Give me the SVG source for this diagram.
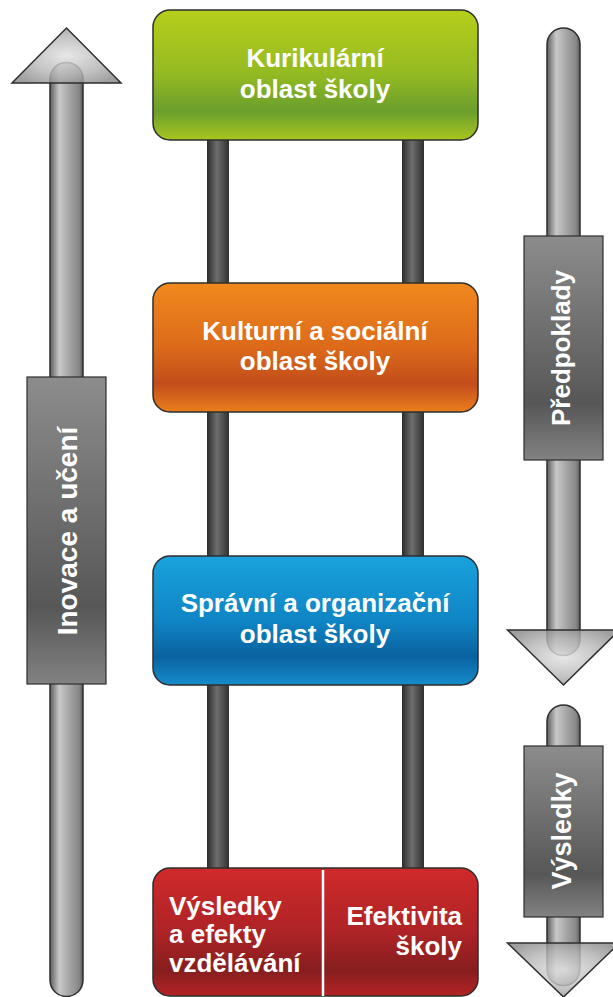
<svg xmlns="http://www.w3.org/2000/svg" width="613" height="997" viewBox="0 0 613 997">
<style>
.t{font-family:"Liberation Sans",Arial,sans-serif;font-weight:bold;font-size:26px;fill:#fff}
.m{text-anchor:middle}
.box{stroke:#2e2e2e;stroke-width:1.5}
.shaft{fill:url(#gShaft);stroke:#2e2e2e;stroke-width:1.5}
.head{fill:url(#gHead);fill-opacity:0.82;stroke:#2e2e2e;stroke-width:1.5;stroke-linejoin:miter}
.lab{fill:url(#gLab);stroke:#2e2e2e;stroke-width:1.2}
.post{fill:url(#gPost)}
</style>
<defs>
<linearGradient id="gGreen" x1="0" y1="0" x2="0" y2="1">
<stop offset="0" stop-color="#b7ce1b"/><stop offset="0.5" stop-color="#93ba22"/><stop offset="0.78" stop-color="#6a9e2d"/><stop offset="1" stop-color="#a9c61e"/>
</linearGradient>
<linearGradient id="gOrange" x1="0" y1="0" x2="0" y2="1">
<stop offset="0" stop-color="#f0891d"/><stop offset="0.5" stop-color="#dc6a1a"/><stop offset="0.78" stop-color="#c24d1b"/><stop offset="1" stop-color="#ea7e1d"/>
</linearGradient>
<linearGradient id="gBlue" x1="0" y1="0" x2="0" y2="1">
<stop offset="0" stop-color="#1aa2dd"/><stop offset="0.5" stop-color="#0f85c5"/><stop offset="0.78" stop-color="#0a62a0"/><stop offset="1" stop-color="#158ccb"/>
</linearGradient>
<linearGradient id="gRed" x1="0" y1="0" x2="0" y2="1">
<stop offset="0" stop-color="#d02a2b"/><stop offset="0.5" stop-color="#ae2326"/><stop offset="0.8" stop-color="#861e1f"/><stop offset="1" stop-color="#b52425"/>
</linearGradient>
<linearGradient id="gLab" x1="0" y1="0" x2="0" y2="1">
<stop offset="0" stop-color="#8c8c8c"/><stop offset="0.75" stop-color="#575757"/><stop offset="1" stop-color="#828282"/>
</linearGradient>
<linearGradient id="gShaft" x1="0" y1="0" x2="1" y2="0">
<stop offset="0" stop-color="#5e5e5e"/><stop offset="0.28" stop-color="#c8c8c8"/><stop offset="0.6" stop-color="#a4a4a4"/><stop offset="0.88" stop-color="#878787"/><stop offset="1" stop-color="#5a5a5a"/>
</linearGradient>
<linearGradient id="gPost" x1="0" y1="0" x2="1" y2="0">
<stop offset="0" stop-color="#2c2c2c"/><stop offset="0.45" stop-color="#6e6e6e"/><stop offset="1" stop-color="#303030"/>
</linearGradient>
<radialGradient id="gHead" cx="0.5" cy="0.5" r="0.6">
<stop offset="0" stop-color="#e2e2e2"/><stop offset="0.6" stop-color="#b4b4b4"/><stop offset="1" stop-color="#8a8a8a"/>
</radialGradient>
</defs>

<g id="connectors">
<rect class="post" x="207" y="135" width="22" height="740"/>
<rect class="post" x="402" y="135" width="22" height="740"/>
</g>

<g id="arrow-inovace">
<path class="shaft" d="M50,79 A16.5,16.5 0 0 1 83,79 L83,980 A16.5,16.5 0 0 1 50,980 Z"/>
<polygon class="head" points="12,83 66.5,28 121,83"/>
<rect class="lab" x="27" y="377" width="79" height="307"/>
<text class="t m" style="font-size:28px" transform="translate(77,531) rotate(-90)">Inovace a učení</text>
</g>

<g id="arrow-predpoklady">
<path class="shaft" d="M547,44.5 A16.5,16.5 0 0 1 580,44.5 L580,639 A16.5,16.5 0 0 1 547,639 Z"/>
<polygon class="head" points="507.5,630 563.5,685 619.5,630"/>
<rect class="lab" x="524" y="236" width="79" height="224"/>
<text class="t m" transform="translate(570,348) rotate(-90)">Předpoklady</text>
</g>

<g id="arrow-vysledky">
<path class="shaft" d="M547,721.5 A16.5,16.5 0 0 1 580,721.5 L580,969 A16.5,16.5 0 0 1 547,969 Z"/>
<polygon class="head" points="507.5,943 563.5,997 619.5,943"/>
<rect class="lab" x="524" y="746" width="79" height="171"/>
<text class="t m" style="font-size:27px" transform="translate(571,831) rotate(-90)">Výsledky</text>
</g>

<g id="node-kurikularni">
<rect class="box" x="153" y="10" width="325" height="130" rx="17" fill="url(#gGreen)"/>
<text class="t m" x="315" y="67">Kurikulární</text>
<text class="t m" x="315" y="98">oblast školy</text>
</g>

<g id="node-kulturni">
<rect class="box" x="153" y="283" width="325" height="129" rx="17" fill="url(#gOrange)"/>
<text class="t m" x="315" y="340">Kulturní a sociální</text>
<text class="t m" x="315" y="370">oblast školy</text>
</g>

<g id="node-spravni">
<rect class="box" x="153" y="556" width="325" height="129" rx="17" fill="url(#gBlue)"/>
<text class="t m" x="315" y="612">Správní a organizační</text>
<text class="t m" x="315" y="643">oblast školy</text>
</g>

<g id="node-vysledky">
<rect class="box" x="153" y="868" width="325" height="128" rx="17" fill="url(#gRed)"/>
<line x1="323" y1="870" x2="323" y2="996" stroke="#fff" stroke-width="2.5"/>
<text class="t" x="169" y="915">Výsledky</text>
<text class="t" x="169" y="943">a efekty</text>
<text class="t" x="169" y="972">vzdělávání</text>
<text class="t" text-anchor="end" x="462" y="925">Efektivita</text>
<text class="t" text-anchor="end" x="462" y="955">školy</text>
</g>
</svg>
